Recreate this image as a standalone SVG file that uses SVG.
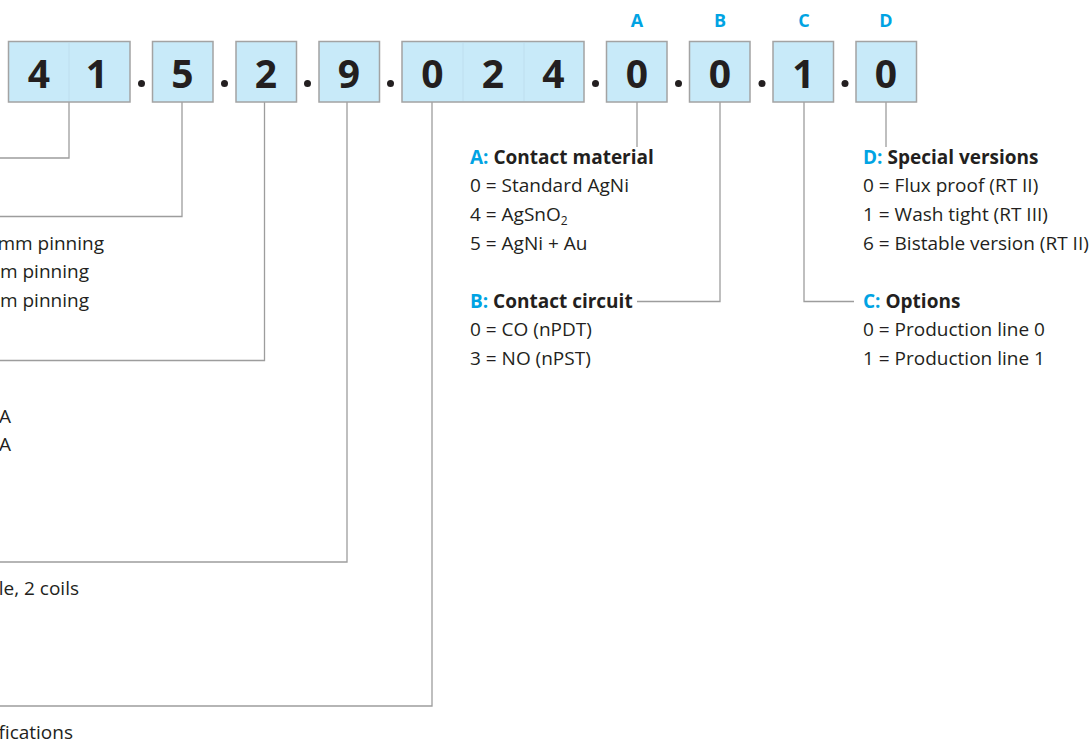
<svg xmlns="http://www.w3.org/2000/svg" width="1089" height="743" viewBox="0 0 1089 743">
<style>
.box{fill:#c8eaf9;stroke:#a3a3a3;stroke-width:1.5}
.div{stroke:#bbdcec;stroke-width:0.8}
.dig{font-family:"Open Sans",sans-serif;font-weight:700;font-size:39px;fill:#231f20;text-anchor:middle}
.let{font-family:"Open Sans",sans-serif;font-weight:700;font-size:18px;fill:#00a3e3;text-anchor:middle}
.dot{fill:#231f20}
.con{fill:none;stroke:#9d9d9d;stroke-width:1.3}
.t{font-family:"Open Sans",sans-serif;font-size:19px;fill:#231f20}
.e{text-anchor:end}
.h{font-weight:700}
.b{fill:#00a3e3;font-weight:700}
</style>
<g id="connectors">
<polyline class="con" points="69,102 69,158 -10,158"/>
<polyline class="con" points="182,102 182,216.5 -10,216.5"/>
<polyline class="con" points="264.5,102 264.5,360.5 -10,360.5"/>
<polyline class="con" points="347,102 347,562 -10,562"/>
<polyline class="con" points="432,102 432,706 -10,706"/>
<polyline class="con" points="637,102 637,147"/>
<polyline class="con" points="720,102 720,301.5 637,301.5"/>
<polyline class="con" points="804,102 804,301.5 854,301.5"/>
<polyline class="con" points="886,102 886,147"/>
</g>
<g id="box-41">
<rect class="box" x="8.5" y="41.5" width="121.5" height="60.5"/>
<line class="div" x1="69" y1="42.5" x2="69" y2="101"/>
<text class="dig" x="39" y="88">4</text>
<text class="dig" x="97" y="88">1</text>
</g>
<circle class="dot" cx="141.5" cy="83.5" r="3.5"/>
<g id="box-5">
<rect class="box" x="152.5" y="41.5" width="60.5" height="60.5"/>
<text class="dig" x="182.5" y="88">5</text>
</g>
<circle class="dot" cx="224.5" cy="83.5" r="3.5"/>
<g id="box-2">
<rect class="box" x="236" y="41.5" width="60.5" height="60.5"/>
<text class="dig" x="266" y="88">2</text>
</g>
<circle class="dot" cx="307.5" cy="83.5" r="3.5"/>
<g id="box-9">
<rect class="box" x="319" y="41.5" width="60.5" height="60.5"/>
<text class="dig" x="349" y="88">9</text>
</g>
<circle class="dot" cx="390.5" cy="83.5" r="3.5"/>
<g id="box-024">
<rect class="box" x="402" y="41.5" width="182" height="60.5"/>
<line class="div" x1="463" y1="42.5" x2="463" y2="101"/>
<line class="div" x1="524" y1="42.5" x2="524" y2="101"/>
<text class="dig" x="432.5" y="88">0</text>
<text class="dig" x="493" y="88">2</text>
<text class="dig" x="553.5" y="88">4</text>
</g>
<circle class="dot" cx="595.5" cy="83.5" r="3.5"/>
<g id="box-A">
<text class="let" x="637" y="27">A</text>
<rect class="box" x="606.5" y="41.5" width="60.5" height="60.5"/>
<text class="dig" x="637" y="88">0</text>
</g>
<circle class="dot" cx="678.5" cy="83.5" r="3.5"/>
<g id="box-B">
<text class="let" x="720" y="27">B</text>
<rect class="box" x="689.5" y="41.5" width="60.5" height="60.5"/>
<text class="dig" x="720" y="88">0</text>
</g>
<circle class="dot" cx="762" cy="83.5" r="3.5"/>
<g id="box-C">
<text class="let" x="804" y="27">C</text>
<rect class="box" x="773" y="41.5" width="60.5" height="60.5"/>
<text class="dig" x="803.5" y="88">1</text>
</g>
<circle class="dot" cx="845" cy="83.5" r="3.5"/>
<g id="box-D">
<text class="let" x="886" y="27">D</text>
<rect class="box" x="856" y="41.5" width="60.5" height="60.5"/>
<text class="dig" x="886" y="88">0</text>
</g>
<g id="left-labels">
<text class="t e" x="104" y="249.5">mm pinning</text>
<text class="t e" x="89" y="278">m pinning</text>
<text class="t e" x="89" y="306.5">m pinning</text>
<text class="t e" x="11" y="422.5">A</text>
<text class="t e" x="11" y="451">A</text>
<text class="t e" x="79" y="595">le, 2 coils</text>
<text class="t e" x="73" y="738.5">fications</text>
</g>
<g id="label-A">
<text class="t h" x="470" y="163.5"><tspan class="b">A:</tspan> Contact material</text>
<text class="t" x="470" y="192">0 = Standard AgNi</text>
<text class="t" x="470" y="220.5">4 = AgSnO<tspan font-size="12" dy="4">2</tspan></text>
<text class="t" x="470" y="249.5">5 = AgNi + Au</text>
</g>
<g id="label-B">
<text class="t h" x="470" y="307.5"><tspan class="b">B:</tspan> Contact circuit</text>
<text class="t" x="470" y="336">0 = CO (nPDT)</text>
<text class="t" x="470" y="364.5">3 = NO (nPST)</text>
</g>
<g id="label-D">
<text class="t h" x="863" y="163.5"><tspan class="b">D:</tspan> Special versions</text>
<text class="t" x="863" y="192">0 = Flux proof (RT II)</text>
<text class="t" x="863" y="220.5">1 = Wash tight (RT III)</text>
<text class="t" x="863" y="249.5">6 = Bistable version (RT II)</text>
</g>
<g id="label-C">
<text class="t h" x="863" y="307.5"><tspan class="b">C:</tspan> Options</text>
<text class="t" x="863" y="336">0 = Production line 0</text>
<text class="t" x="863" y="364.5">1 = Production line 1</text>
</g>
</svg>
